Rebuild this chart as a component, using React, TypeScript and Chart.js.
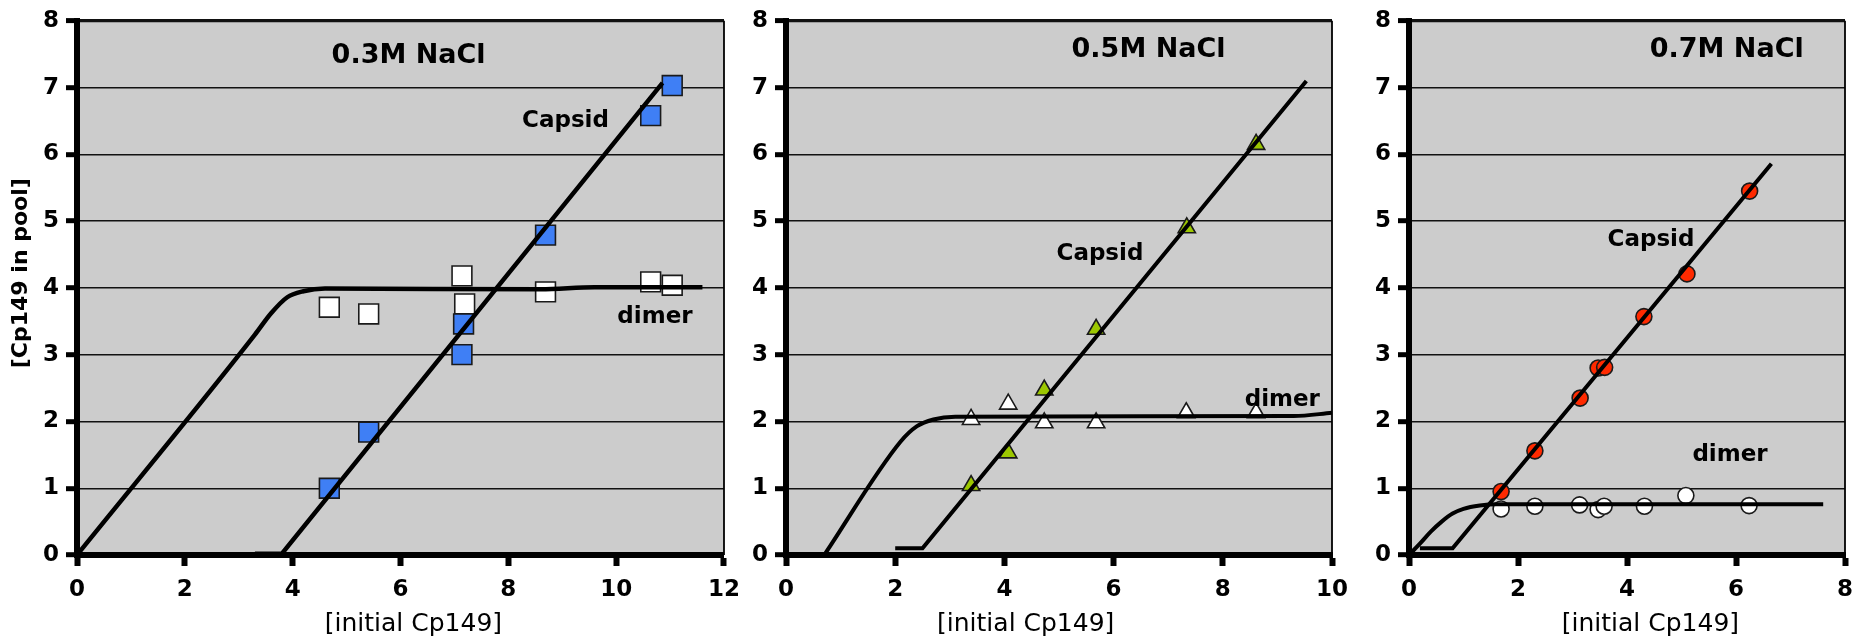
import React, { useEffect, useRef } from "react";
import { Chart, registerables } from "chart.js";
Chart.register(...registerables);

type P = { x: number; y: number };
const pts = (a: number[][]): P[] => a.map(([x, y]) => ({ x, y }));

// ---- 0.3M NaCl ----
const capsid03 = pts([[4.68, 1.0], [5.41, 1.84], [7.14, 3.0], [7.17, 3.46], [8.69, 4.79], [10.64, 6.58], [11.04, 7.03]]);
const dimer03 = pts([[4.68, 3.71], [5.41, 3.61], [7.14, 4.18], [7.19, 3.76], [8.69, 3.94], [10.64, 4.09], [11.04, 4.04]]);
const capsidFit03 = pts([[3.3, 0.02], [3.8, 0.02], [10.86, 7.07]]);
const dimerFit03 = pts([[0, 0], [3.3, 3.3], [3.6, 3.62], [3.9, 3.86], [4.2, 3.95], [4.6, 3.99], [8.6, 3.98], [9.6, 4.01], [11.6, 4.01]]);

// ---- 0.5M NaCl ----
const capsid05 = pts([[3.39, 1.04], [4.07, 1.53], [4.73, 2.47], [5.68, 3.38], [7.34, 4.9], [8.61, 6.15]]);
const dimer05 = pts([[3.39, 2.03], [4.07, 2.26], [4.73, 1.98], [5.68, 1.98], [7.33, 2.13], [8.61, 2.13]]);
const capsidFit05 = pts([[2.0, 0.1], [2.5, 0.1], [9.53, 7.1]]);
const dimerFit05 = pts([[0.7, 0], [2.1, 1.7], [2.4, 1.93], [2.7, 2.03], [3.1, 2.07], [9.3, 2.08], [10, 2.13]]);

// ---- 0.7M NaCl ----
const capsid07 = pts([[1.69, 0.95], [2.31, 1.56], [3.14, 2.35], [3.47, 2.8], [3.59, 2.81], [4.31, 3.57], [5.1, 4.21], [6.25, 5.45]]);
const dimer07 = pts([[1.69, 0.69], [2.31, 0.73], [3.13, 0.75], [3.47, 0.68], [3.58, 0.73], [4.32, 0.73], [5.08, 0.89], [6.24, 0.74]]);
const capsidFit07 = pts([[0.2, 0.1], [0.8, 0.1], [6.65, 5.86]]);
const dimerFit07 = pts([[0, 0], [0.2, 0.17], [0.4, 0.35], [0.6, 0.5], [0.8, 0.62], [1.0, 0.69], [1.3, 0.74], [1.6, 0.76], [7.6, 0.76]]);

const panelTitles = ["0.3M NaCl", "0.5M NaCl", "0.7M NaCl"];
const xMaxes = [12, 10, 8];
const xStep = 2;
const yMin = 0;
const yMax = 8;
const xAxisTitle = "[initial Cp149]";
const yAxisTitle = "[Cp149 in pool]";

const TICK_FONT = { family: "'DejaVu Sans', Verdana, sans-serif", size: 23, weight: "bold" as const };
const LABEL_FAMILY = "'DejaVu Sans', sans-serif";

type Note = { text: string; x: number; y: number; font: string; rot?: number };

const bgPlugin = {
  id: "bgPlot",
  beforeDraw(chart: any) {
    const a = chart.chartArea;
    const ctx = chart.ctx;
    ctx.save();
    ctx.fillStyle = "#cccccc";
    ctx.fillRect(a.left, a.top, a.right - a.left, a.bottom - a.top);
    ctx.restore();
  },
  beforeDatasetsDraw(chart: any) {
    const a = chart.chartArea;
    const ctx = chart.ctx;
    ctx.save();
    ctx.strokeStyle = "#000";
    ctx.lineWidth = 1.8;
    ctx.beginPath();
    ctx.moveTo(a.right, a.top);
    ctx.lineTo(a.right, a.bottom);
    ctx.stroke();
    ctx.restore();
  },
};

const notesPlugin = {
  id: "notes",
  afterDraw(chart: any, _args: any, opts: any) {
    const notes: Note[] = opts.items || [];
    const ctx = chart.ctx;
    const xs = chart.scales.x;
    const ys = chart.scales.y;
    notes.forEach((n) => {
      const px = xs.getPixelForValue(n.x);
      const py = ys.getPixelForValue(n.y);
      ctx.save();
      ctx.translate(px, py);
      if (n.rot) ctx.rotate(n.rot);
      ctx.font = n.font;
      ctx.fillStyle = "#000";
      ctx.textAlign = "center";
      ctx.textBaseline = "middle";
      ctx.fillText(n.text, 0, 0);
      ctx.restore();
    });
  },
};

type PanelProps = {
  left: number;
  width: number;
  yAxisWidth: number;
  padRight: number;
  xMax: number;
  capsid: P[];
  dimer: P[];
  capsidFit: P[];
  dimerFit: P[];
  pointStyle: string;
  capsidColor: string;
  radius: number;
  lineWidth: number;
  notes: Note[];
};

function Panel(p: PanelProps) {
  const ref = useRef<HTMLCanvasElement>(null);
  useEffect(() => {
    if (!ref.current) return;
    const fitLine = (data: P[], smooth: boolean) => ({
      data,
      showLine: true,
      borderColor: "#000",
      borderWidth: p.lineWidth,
      pointRadius: 0,
      fill: false,
      tension: smooth ? 0.4 : 0,
      cubicInterpolationMode: smooth ? "monotone" : "default",
      borderCapStyle: "butt",
    });
    const chart = new Chart(ref.current, {
      type: "scatter",
      data: {
        datasets: [
          fitLine(p.capsidFit, false),
          fitLine(p.dimerFit, true),
          {
            data: p.capsid,
            pointStyle: p.pointStyle,
            pointRadius: p.radius,
            pointBackgroundColor: p.capsidColor,
            pointBorderColor: "#1a1a1a",
            pointBorderWidth: 1.6,
          },
          {
            data: p.dimer,
            pointStyle: p.pointStyle,
            pointRadius: p.radius,
            pointBackgroundColor: "#ffffff",
            pointBorderColor: "#1a1a1a",
            pointBorderWidth: 1.6,
          },
        ] as any,
      },
      options: {
        animation: false,
        responsive: false,
        maintainAspectRatio: false,
        layout: { padding: { top: 15, right: p.padRight, left: 0, bottom: 0 } },
        plugins: {
          legend: { display: false },
          tooltip: { enabled: false },
          notes: { items: p.notes },
        } as any,
        scales: {
          x: {
            type: "linear",
            min: 0,
            max: p.xMax,
            ticks: { stepSize: xStep, color: "#000", font: TICK_FONT, padding: 10, maxRotation: 0 },
            grid: { drawOnChartArea: false, drawTicks: true, tickLength: 11, tickWidth: 6, tickColor: "#000" },
            border: { display: true, width: 6, color: "#000" },
            afterFit: (s: any) => {
              s.height = 86;
            },
          },
          y: {
            type: "linear",
            min: yMin,
            max: yMax,
            ticks: { stepSize: 1, color: "#000", font: TICK_FONT, padding: 7 },
            grid: {
              color: "#111",
              lineWidth: (c: any) => (c.tick && c.tick.value === yMax ? 3.2 : 1.4),
              drawTicks: true,
              tickLength: 11,
              tickWidth: 5,
              tickColor: "#000",
            },
            border: { display: true, width: 6, color: "#000" },
            afterFit: (s: any) => {
              s.width = p.yAxisWidth;
            },
          },
        } as any,
      },
      plugins: [bgPlugin, notesPlugin],
    } as any);
    return () => chart.destroy();
  }, []);
  return (
    <canvas
      ref={ref}
      width={p.width}
      height={641}
      style={{ position: "absolute", left: p.left, top: 0, width: p.width, height: 641 }}
    />
  );
}

const titleFont = `bold 27px ${LABEL_FAMILY}`;
const seriesFont = `bold 23px ${LABEL_FAMILY}`;
const xTitleFont = `25px ${LABEL_FAMILY}`;
const yTitleFont = `bold 22px ${LABEL_FAMILY}`;

export default function App() {
  return (
    <div style={{ position: "absolute", left: 0, top: 0, width: 1872, height: 641, background: "#fff" }}>
      <Panel
        left={0}
        width={750}
        yAxisWidth={77}
        padRight={19}
        xMax={xMaxes[0]}
        capsid={capsid03}
        dimer={dimer03}
        capsidFit={capsidFit03}
        dimerFit={dimerFit03}
        pointStyle="rect"
        capsidColor="#3f7ff5"
        radius={14}
        lineWidth={4.5}
        notes={[
          { text: panelTitles[0], x: 6.15, y: 7.47, font: titleFont },
          { text: "Capsid", x: 9.06, y: 6.5, font: seriesFont },
          { text: "dimer", x: 10.72, y: 3.56, font: seriesFont },
          { text: xAxisTitle, x: 6.24, y: -1.04, font: xTitleFont },
          { text: yAxisTitle, x: -1.03, y: 4.22, font: yTitleFont, rot: -Math.PI / 2 },
        ]}
      />
      <Panel
        left={750}
        width={610}
        yAxisWidth={36}
        padRight={28}
        xMax={xMaxes[1]}
        capsid={capsid05}
        dimer={dimer05}
        capsidFit={capsidFit05}
        dimerFit={dimerFit05}
        pointStyle="triangle"
        capsidColor="#9cc700"
        radius={10}
        lineWidth={4}
        notes={[
          { text: panelTitles[1], x: 6.64, y: 7.56, font: titleFont },
          { text: "Capsid", x: 5.75, y: 4.5, font: seriesFont },
          { text: "dimer", x: 9.09, y: 2.32, font: seriesFont },
          { text: xAxisTitle, x: 4.39, y: -1.04, font: xTitleFont },
        ]}
      />
      <Panel
        left={1360}
        width={512}
        yAxisWidth={49}
        padRight={27}
        xMax={xMaxes[2]}
        capsid={capsid07}
        dimer={dimer07}
        capsidFit={capsidFit07}
        dimerFit={dimerFit07}
        pointStyle="circle"
        capsidColor="#ff2a00"
        radius={8}
        lineWidth={4}
        notes={[
          { text: panelTitles[2], x: 5.83, y: 7.56, font: titleFont },
          { text: "Capsid", x: 4.44, y: 4.71, font: seriesFont },
          { text: "dimer", x: 5.89, y: 1.5, font: seriesFont },
          { text: xAxisTitle, x: 4.43, y: -1.04, font: xTitleFont },
        ]}
      />
    </div>
  );
}
